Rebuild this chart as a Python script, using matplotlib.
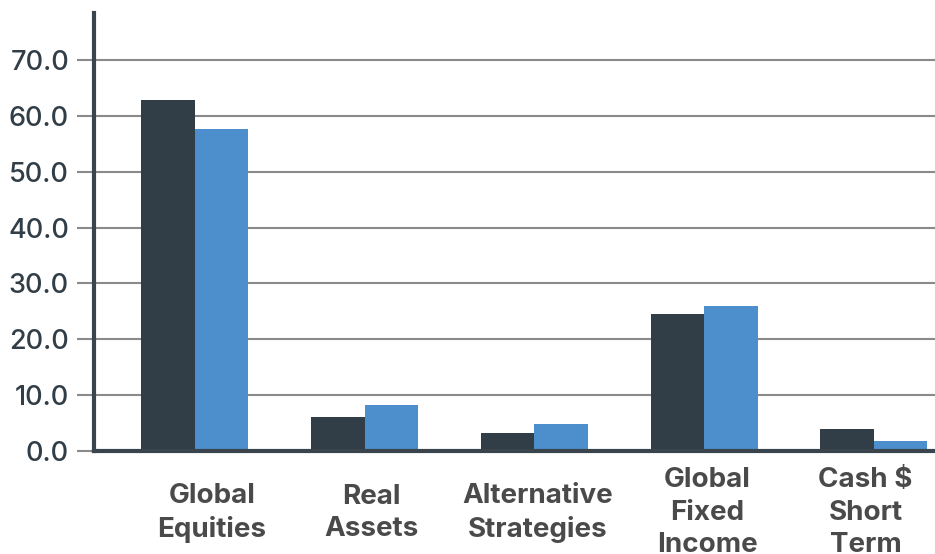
import numpy as np
import matplotlib
matplotlib.use("Agg")
import matplotlib.pyplot as plt
from matplotlib.transforms import blended_transform_factory

# Data
categories = ["Global\nEquities", "Real\nAssets", "Alternative\nStrategies",
              "Global\nFixed\nIncome", "Cash $\nShort\nTerm"]
series_dark = [62.8, 6.1, 3.2, 24.5, 3.9]
series_blue = [57.6, 8.2, 4.8, 26.0, 1.8]
yticks = [0, 10, 20, 30, 40, 50, 60, 70]

# Layout (label nudges in category units)
label_nudge = [0.10, 0.04, 0.02, 0.02, -0.05]

dark = "#323e47"
blue = "#4d8fcc"
grid = "#8a8a8a"

fig = plt.figure(figsize=(9.35, 5.54), dpi=100)
ax = fig.add_axes([94 / 935, 103 / 554, 1 - 94 / 935, 438 / 554])

x = np.arange(len(categories))
w = 0.315
ax.bar(x - w / 2, series_dark, w, color=dark, zorder=3)
ax.bar(x + w / 2, series_blue, w, color=blue, zorder=3)

ax.set_xlim(-0.594, 4.36)
ax.set_ylim(0, 78.4)

ax.set_yticks(yticks)
ax.set_yticklabels(["%.1f" % v for v in yticks], fontsize=19.5, color="#323e47",
                   family="Inter", fontweight="medium")
ax.tick_params(axis="y", length=12, width=1.5, color=grid, pad=6)
ax.yaxis.grid(True, color=grid, linewidth=1.5, zorder=0)
ax.set_axisbelow(True)

ax.set_xticks([])
trans = blended_transform_factory(ax.transData, ax.transAxes)
for i, lab in enumerate(categories):
    ax.text(x[i] + label_nudge[i], -0.141, lab, transform=trans, ha="center",
            va="center", fontsize=20, fontweight="bold", color="#4a4a4a",
            family="Inter", linespacing=1.32, clip_on=False)

for s in ["top", "right"]:
    ax.spines[s].set_visible(False)
for s in ["left", "bottom"]:
    ax.spines[s].set_color("#3a444c")
    ax.spines[s].set_linewidth(3)
    ax.spines[s].set_zorder(4)

fig.savefig("out.png", dpi=100)
